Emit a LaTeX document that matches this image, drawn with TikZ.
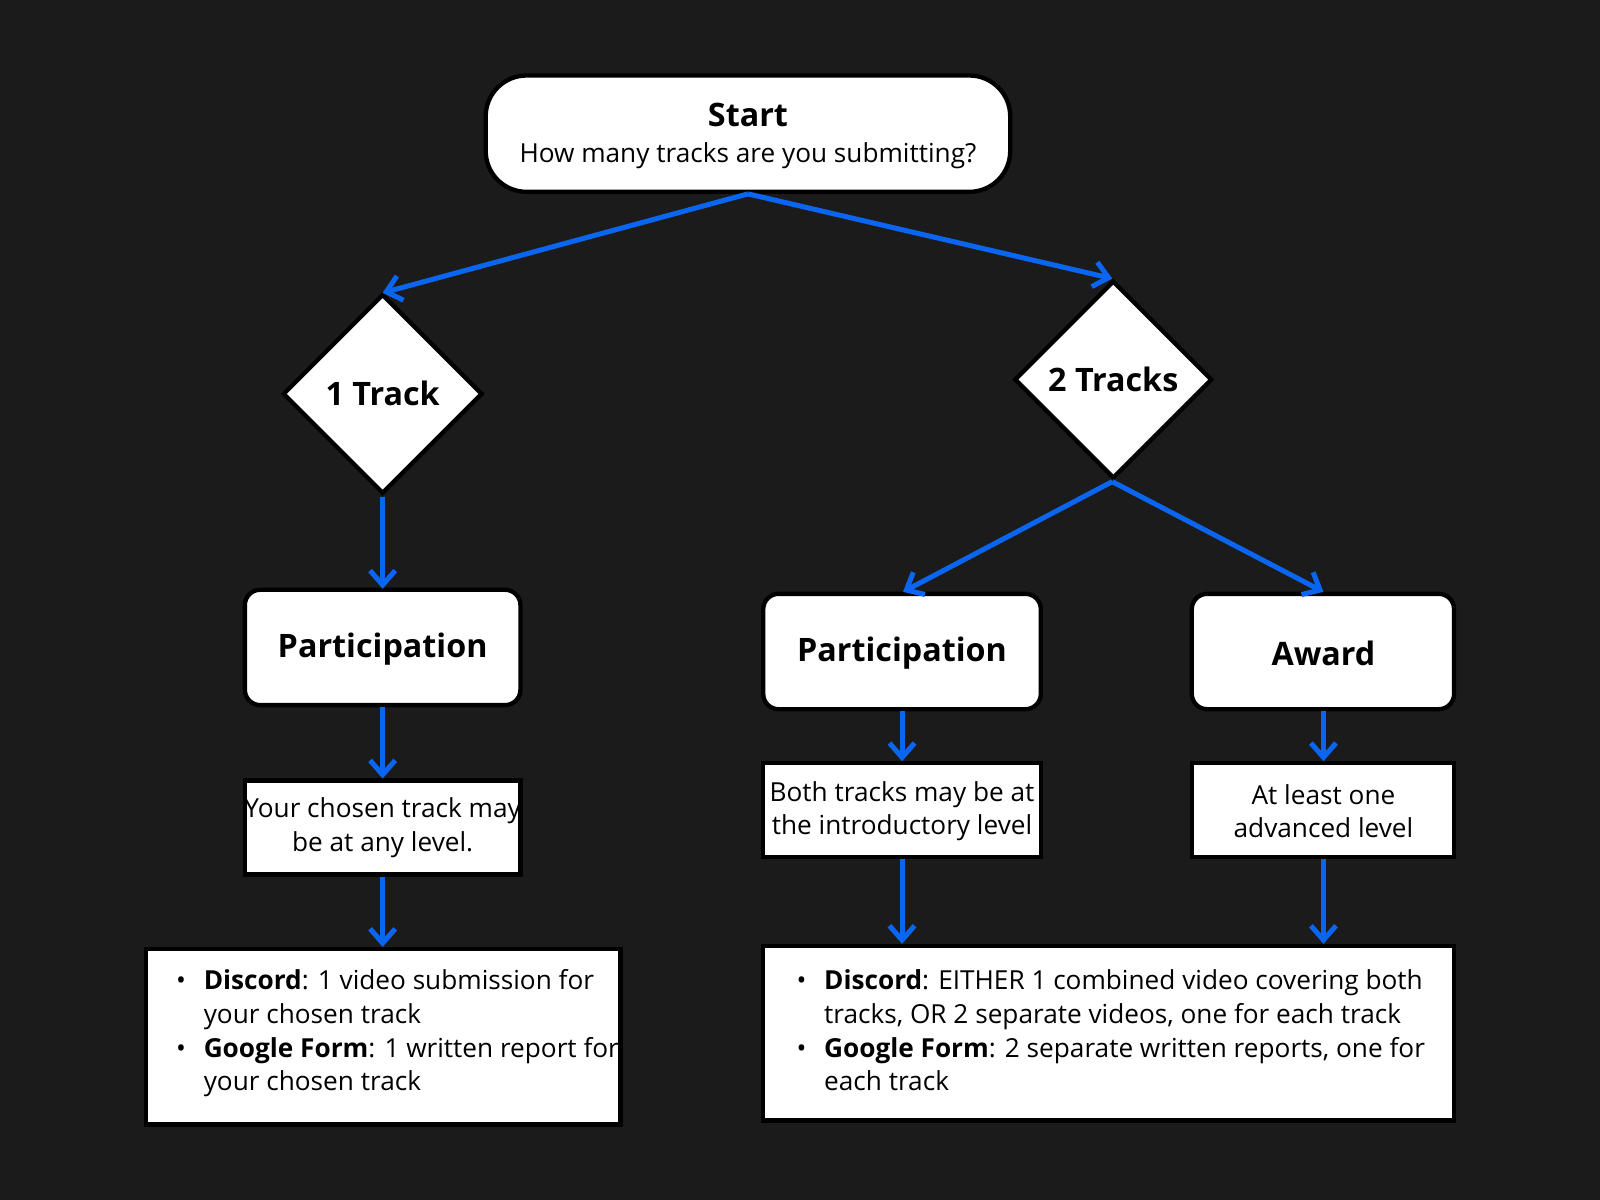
\documentclass[tikz,border=0pt]{standalone}
\usepackage{fontspec}
\setmainfont{Open Sans}
\usetikzlibrary{arrows.meta,shapes.geometric}
\definecolor{bg}{HTML}{1B1B1B}
\definecolor{arr}{HTML}{0A66F0}
\begin{document}
\begin{tikzpicture}[x=0.01cm,y=-0.01cm,
  box/.style={draw=black,line width=1.2pt,fill=white,inner sep=0pt},
  rbox/.style={box,rounded corners=0.4cm},
  conn/.style={draw=arr,line width=1.4pt,-{Straight Barb[length=4pt,width=7pt]}},
  body/.style={font=\fontsize{7.3}{9.4}\selectfont,align=center},
  title/.style={font=\fontsize{9}{11}\selectfont\bfseries}]
\fill[bg] (0,0) rectangle (1568,1176);
\useasboundingbox (0,0) rectangle (1568,1176);
% start
\draw[rbox] (476,74) rectangle (990,188);
\node[title] (st) at (733,113) {Start};
\node[body] at (733,153) {How many tracks are you submitting?};
\coordinate (sb) at (733,190);
% diamonds
\draw[box] (375,289)--(472,386)--(375,483)--(278,386)--cycle;
\node[title] (d1) at (375,386) {1 Track};
\draw[box] (1091,276)--(1187,372)--(1091,468)--(995,372)--cycle;
\node[title] (d2) at (1091,372) {2 Tracks};
\coordinate (d1t) at (375,287); \coordinate (d2t) at (1090,273);
\draw[conn] (sb)--(d1t); \draw[conn] (sb)--(d2t);
% left column
\draw[rbox,rounded corners=0.15cm] (240,578) rectangle (510,691);
\node[title] (p1) at (375,636) {Participation};
\coordinate (d1b) at (375,487); \coordinate (p1t) at (375,577);
\draw[conn] (d1b)--(p1t);
\draw[box] (240,765) rectangle (510,857);
\node[body] (c1) at (375,811) {Your chosen track may\\be at any level.};
\coordinate (p1b) at (375,693); \coordinate (c1t) at (375,763);
\draw[conn] (p1b)--(c1t);
\draw[box] (143,930) rectangle (608,1102);
\coordinate (c1b) at (375,859); \coordinate (l1t) at (375,928);
\draw[conn] (c1b)--(l1t);
\begin{scope}[every node/.style={body,anchor=base west,inner sep=0pt}]
\node (a1) at (172,970) {\textbullet};
\node (a2) at (199,970) {\textbf{Discord}: 1 video submission for};
\node (a3) at (199,1003) {your chosen track};
\node (a4) at (172,1036) {\textbullet};
\node (a5) at (199,1036) {\textbf{Google Form}: 1 written report for};
\node (a6) at (199,1069) {your chosen track};
\end{scope}
% right
\coordinate (d2b) at (1090,472);
\draw[rbox,rounded corners=0.15cm] (748,582) rectangle (1020,695);
\node[title] (p2) at (884,640) {Participation};
\draw[rbox,rounded corners=0.15cm] (1168,582) rectangle (1425,695);
\node[title] (aw) at (1297,640) {Award};
\coordinate (p2t) at (885,580); \coordinate (awt) at (1297,580);
\draw[conn] (d2b)--(p2t); \draw[conn] (d2b)--(awt);
\draw[box] (748,748) rectangle (1020,840);
\node[body] (c2) at (884,795) {Both tracks may be at\\the introductory level};
\draw[box] (1168,748) rectangle (1425,840);
\node[body] (c3) at (1297,795) {At least one\\advanced level};
\coordinate (p2b) at (884,697); \coordinate (c2t) at (884,746);
\coordinate (awb) at (1297,697); \coordinate (c3t) at (1297,746);
\draw[conn] (p2b)--(c2t); \draw[conn] (awb)--(c3t);
\draw[box] (748,927) rectangle (1425,1098);
\coordinate (c2b) at (884,842); \coordinate (r2t) at (884,925);
\coordinate (c3b) at (1297,842); \coordinate (r3t) at (1297,925);
\draw[conn] (c2b)--(r2t); \draw[conn] (c3b)--(r3t);
\begin{scope}[every node/.style={body,anchor=base west,inner sep=0pt}]
\node (b1) at (780,970) {\textbullet};
\node (b2) at (807,970) {\textbf{Discord}: EITHER 1 combined video covering both};
\node (b3) at (807,1003) {tracks, OR 2 separate videos, one for each track};
\node (b4) at (780,1036) {\textbullet};
\node (b5) at (807,1036) {\textbf{Google Form}: 2 separate written reports, one for};
\node (b6) at (807,1069) {each track};
\end{scope}
\end{tikzpicture}
\end{document}
